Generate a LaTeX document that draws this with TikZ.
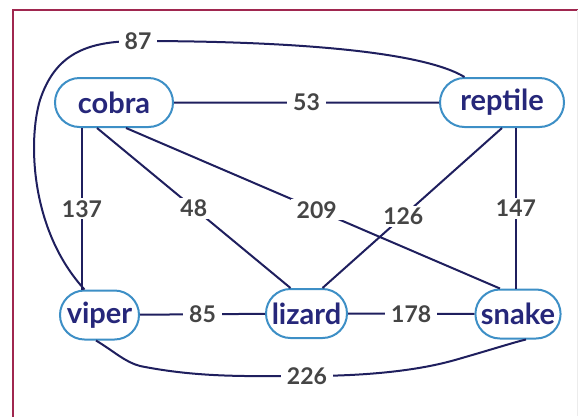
\documentclass[tikz,border=0pt]{standalone}
\usepackage{fontspec}
\setmainfont{Lato}
\usetikzlibrary{shapes.misc}
\definecolor{nodeblue}{HTML}{3D8FC6}
\definecolor{nodetext}{HTML}{26277A}
\definecolor{edgecol}{HTML}{1F1F5E}
\definecolor{lblcol}{HTML}{454545}
\definecolor{framecol}{HTML}{A0274F}
\tikzset{
  animal/.style={rounded rectangle, draw=nodeblue, line width=2pt, fill=white,
    text=nodetext, font=\fontsize{29}{31}\selectfont\bfseries, minimum height=49pt,
    inner xsep=3pt, inner ysep=0pt},
  lbl/.style={fill=white, text=lblcol, font=\fontsize{23}{26}\selectfont\bfseries,
    inner xsep=6pt, inner ysep=2pt},
  edge/.style={draw=edgecol, line width=2pt},
  frame/.style={draw=framecol, line width=1.8pt}
}
\begin{document}
\begin{tikzpicture}[x=1pt,y=-1pt]
\useasboundingbox (0,0) rectangle (578,416);
\draw[frame] (13,430) -- (13,10) -- (590,10);
\draw[gray!15, line width=0.8pt] (577,10) -- (577,416);

\node[animal, minimum width=124pt] (cobra) at (114,102.5) {cobra\hspace{18pt}};
\node[animal, minimum width=130pt] (reptile) at (502,102.5) {reptile\hspace{8pt}};
\node[animal, minimum width=85pt] (viper) at (99.5,315) {viper};
\node[animal, minimum width=87pt] (lizard) at (306.5,313.5) {lizard};
\node[animal, minimum width=84pt] (snake) at (518,314) {snake};

\draw[edge] (cobra) -- node[lbl] {53} (reptile);
\draw[edge] (cobra.south -| 82,0) -- node[lbl, pos=0.5] {137} (viper.north -| 82,0);
\draw[edge] (cobra.south -| 97,0) -- node[lbl, pos=0.5] {48} (lizard.north west);
\draw[edge] (cobra.south -| 126,0) -- node[lbl, pos=0.51] {209} (snake.north west);
\draw[edge] (reptile.south -| 502,0) -- node[lbl, pos=0.55] {126} (lizard.north east);
\draw[edge] (reptile.south -| 516,0) -- node[lbl, pos=0.5] {147} (snake.north -| 516,0);
\draw[edge] (viper) -- node[lbl] {85} (lizard);
\draw[edge] (lizard) -- node[lbl] {178} (snake);
\draw[edge] (viper.south -| 96,0) .. controls (115,352) and (125,362) .. (140,366)
  .. controls (200,378) and (250,376) .. (307,376) node[lbl] {226}
  .. controls (370,376) and (420,370) .. (455,360)
  .. controls (490,350) and (515,342) .. (snake.south -| 526,0);
\draw[edge] (viper.north west) .. controls (30,230) and (28,140) .. (40,100)
  .. controls (55,55) and (85,41) .. (138,41) node[lbl] {87}
  .. controls (280,41) and (420,50) .. (reptile.north west);
\end{tikzpicture}
\end{document}
